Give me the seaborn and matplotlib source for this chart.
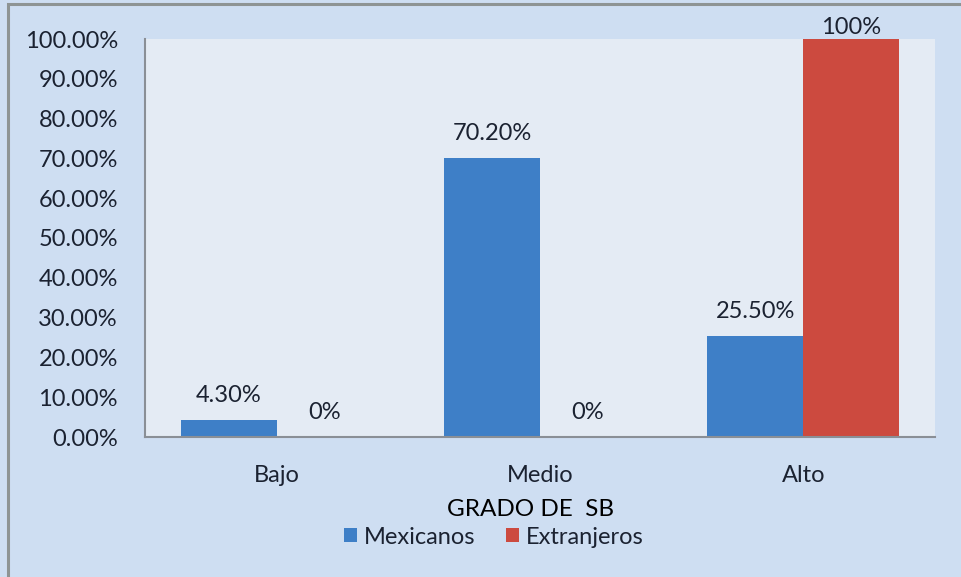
import matplotlib
matplotlib.use("Agg")
import matplotlib.pyplot as plt
from matplotlib.patches import Rectangle, Patch
import seaborn as sns
import pandas as pd

categories = ["Bajo", "Medio", "Alto"]
series_names = ["Mexicanos", "Extranjeros"]
mexicanos = [4.30, 70.20, 25.50]
extranjeros = [0.0, 0.0, 100.0]
y_ticks = [0, 10, 20, 30, 40, 50, 60, 70, 80, 90, 100]
axis_title = "GRADO DE  SB"

colors = {"Mexicanos": "#3E7FC7", "Extranjeros": "#CC4A3F"}
label_fmt = {"Mexicanos": "{:.2f}%", "Extranjeros": "{:.0f}%"}

df = pd.DataFrame({
    "grado": categories * 2,
    "serie": [series_names[0]] * 3 + [series_names[1]] * 3,
    "valor": mexicanos + extranjeros,
})

sns.set_theme(style="white")
plt.rcParams["font.family"] = ["Lato", "DejaVu Sans"]
text_color = "#1B2231"
fs = 17

fig = plt.figure(figsize=(9.61, 5.77), dpi=100)
fig.patch.set_facecolor("#CEDEF2")

# outer chart frame (left and top edges visible)
fig.patches.append(Rectangle((7.5 / 961, -0.05), 1.2, 1.05 - 3.5 / 577,
                             transform=fig.transFigure, fill=False,
                             edgecolor="#8E9494", linewidth=2.2, zorder=0))

ax = fig.add_axes([145 / 961, 1 - 437 / 577, 790 / 961, 398 / 577])
ax.set_facecolor("#E4EBF4")

sns.barplot(data=df, x="grado", y="valor", hue="serie", order=categories,
            hue_order=series_names, palette=colors, width=0.73,
            saturation=1, legend=False, linewidth=0, ax=ax)

ax.set_ylim(0, 100)
ax.set_yticks(y_ticks)
ax.set_yticklabels([f"{t:.2f}%" for t in y_ticks])
ax.set_xlabel("")
ax.set_ylabel("")
ax.tick_params(axis="both", length=0, labelsize=fs, labelcolor=text_color)
ax.tick_params(axis="y", pad=19.5)
ax.tick_params(axis="x", pad=20)

for side in ["top", "right"]:
    ax.spines[side].set_visible(False)
for side in ["left", "bottom"]:
    ax.spines[side].set_color("#8A8F96")
    ax.spines[side].set_linewidth(1.5)

# value labels above each bar
for container, name in zip(ax.containers, series_names):
    for bar in container:
        h = bar.get_height()
        x = bar.get_x() + bar.get_width() / 2
        pad = 10 if h < 95 else 1
        ax.annotate(label_fmt[name].format(h), (x, h), xytext=(0, pad),
                    textcoords="offset points", ha="center", va="bottom",
                    fontsize=fs, color=text_color, annotation_clip=False)

fig.text(531 / 961, 1 - 510 / 577, axis_title, ha="center", va="center",
         fontsize=17.5, color="black")

handles = [Patch(facecolor=colors[n], edgecolor="none") for n in series_names]
fig.legend(handles, series_names, loc="center", bbox_to_anchor=(494 / 961, 1 - 537 / 577),
           ncol=2, frameon=False, fontsize=fs, handlelength=0.55, handleheight=0.55,
           handletextpad=0.3, columnspacing=1.3, labelcolor=text_color)

fig.savefig("out.png", dpi=100, facecolor=fig.get_facecolor())
